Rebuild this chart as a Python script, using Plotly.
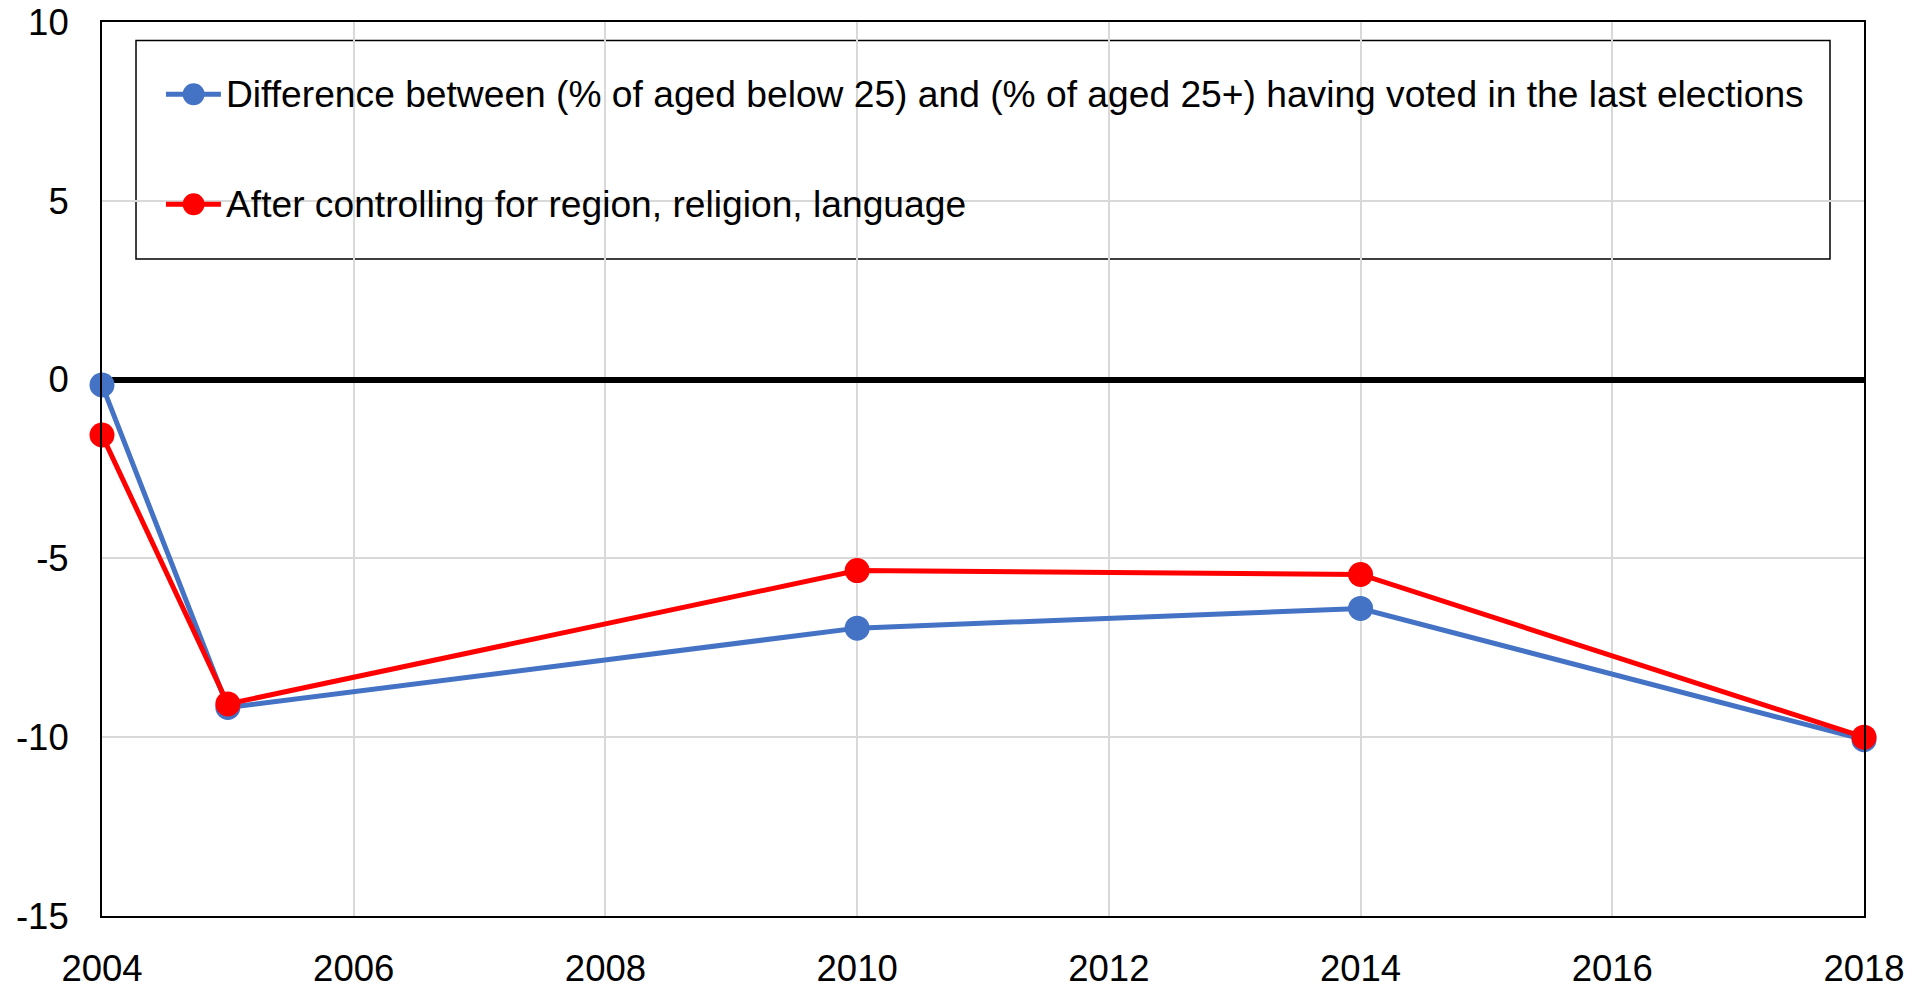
import plotly.graph_objects as go

# data
years = [2004, 2005, 2010, 2014, 2018]
diff_raw = [-0.15, -9.17, -6.95, -6.40, -10.07]
diff_ctrl = [-1.55, -9.07, -5.34, -5.45, -10.0]

name_raw = "Difference between (% of aged below 25) and (% of aged 25+) having voted in the last elections"
name_ctrl = "After controlling for region, religion, language"

y_ticks = [-15, -10, -5, 0, 5, 10]
y_labels = ["-15", "-10", "-5", "0", "5", "10"]
x_ticks = [2004, 2006, 2008, 2010, 2012, 2014, 2016, 2018]

blue = "#4472C4"
red = "#FF0000"
font = "Arial, Liberation Sans, sans-serif"

fig = go.Figure()
fig.add_trace(go.Scatter(x=years, y=diff_raw, name=name_raw, mode="lines+markers",
                         line=dict(color=blue, width=5),
                         marker=dict(color=blue, size=25), cliponaxis=False))
fig.add_trace(go.Scatter(x=years, y=diff_ctrl, name=name_ctrl, mode="lines+markers",
                         line=dict(color=red, width=5),
                         marker=dict(color=red, size=25), cliponaxis=False))

# legend box drawn by hand (Excel style: long line, big marker, wide spacing)
shapes = [dict(type="rect", xref="paper", yref="paper", x0=0.0193, x1=0.9807,
               y0=0.7349, y1=0.9793, line=dict(color="black", width=1.5),
               fillcolor="white", layer="between")]
annotations = []
for col, nm, yy in [(blue, name_raw, 0.9191), (red, name_ctrl, 0.7961)]:
    shapes.append(dict(type="line", xref="paper", yref="paper", x0=0.0363, x1=0.0675,
                       y0=yy, y1=yy, line=dict(color=col, width=5), layer="above"))
    shapes.append(dict(type="circle", xref="paper", yref="paper",
                       xsizemode="pixel", ysizemode="pixel",
                       xanchor=0.052, yanchor=yy, x0=-11, x1=11, y0=-11, y1=11,
                       fillcolor=col, line=dict(width=0), layer="above"))
    annotations.append(dict(xref="paper", yref="paper", x=0.0695, y=yy, text=nm,
                            showarrow=False, xanchor="left", yanchor="middle",
                            font=dict(family=font, size=37.2, color="black")))

fig.update_layout(
    width=1926, height=990,
    margin=dict(l=102, r=62, t=22, b=74, autoexpand=False),
    plot_bgcolor="white", paper_bgcolor="white",
    showlegend=False,
    font=dict(family=font, size=36.5, color="black"),
    shapes=shapes, annotations=annotations,
)
fig.update_xaxes(range=[2004, 2018], tickmode="array", tickvals=x_ticks,
                 showgrid=True, gridcolor="#D9D9D9", gridwidth=1.5, zeroline=False,
                 showline=True, linecolor="black", linewidth=2, mirror=True,
                 ticks="", ticklabelstandoff=19, automargin=False)
fig.update_yaxes(range=[-15, 10], tickmode="array", tickvals=y_ticks, ticktext=y_labels,
                 showgrid=True, gridcolor="#D9D9D9", gridwidth=1.5,
                 zeroline=True, zerolinecolor="black", zerolinewidth=6,
                 showline=True, linecolor="black", linewidth=2, mirror=True,
                 ticks="", ticklabelstandoff=24, automargin=False)

fig.write_html("out.html", config={"displayModeBar": False},
               post_script="document.body.style.margin='0';")
